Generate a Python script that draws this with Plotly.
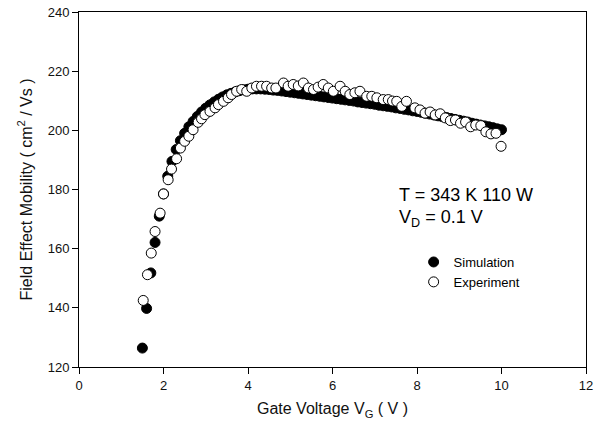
import plotly.graph_objects as go

# Simulation (filled circles)
sim_v = [1.5, 1.6, 1.7, 1.8, 1.9, 2.0, 2.1, 2.2, 2.3, 2.4, 2.5, 2.6, 2.7, 2.8, 2.9,
         3.0, 3.1, 3.2, 3.3, 3.4, 3.5, 3.6, 3.7, 3.8, 3.9, 4.0, 4.1, 4.2, 4.3, 4.4,
         4.5, 4.6, 4.7, 4.8, 4.9, 5.0, 5.1, 5.2, 5.3, 5.4, 5.5, 5.6, 5.7, 5.8, 5.9,
         6.0, 6.1, 6.2, 6.3, 6.4, 6.5, 6.6, 6.7, 6.8, 6.9, 7.0, 7.1, 7.2, 7.3, 7.4,
         7.5, 7.6, 7.7, 7.8, 7.9, 8.0, 8.1, 8.2, 8.3, 8.4, 8.5, 8.6, 8.7, 8.8, 8.9,
         9.0, 9.1, 9.2, 9.3, 9.4, 9.5, 9.6, 9.7, 9.8, 9.9, 10.0]
sim_mu = [126.4, 139.8, 151.8, 162.1, 171.0, 178.5, 184.5, 189.5, 193.5, 196.5,
          199.0, 201.2, 203.0, 204.7, 206.2, 207.5, 208.6, 209.6, 210.5, 211.3,
          212.0, 212.5, 213.0, 213.4, 213.7, 213.9, 214.0, 214.0, 214.0, 213.9,
          213.8, 213.6, 213.5, 213.3, 213.1, 212.9, 212.7, 212.5, 212.3, 212.1,
          211.9, 211.7, 211.5, 211.3, 211.1, 210.9, 210.7, 210.5, 210.3, 210.1,
          209.9, 209.6, 209.4, 209.2, 209.0, 208.8, 208.5, 208.3, 208.1, 207.9,
          207.6, 207.4, 207.1, 206.9, 206.6, 206.4, 206.1, 205.8, 205.5, 205.2,
          204.9, 204.6, 204.3, 204.0, 203.7, 203.4, 203.1, 202.8, 202.4, 202.1,
          201.8, 201.5, 201.2, 200.9, 200.5, 200.2]

# Experiment (open circles)
exp_v = [1.52, 1.62, 1.71, 1.80, 1.92, 2.00, 2.11, 2.19, 2.31, 2.40, 2.50, 2.60,
         2.70, 2.82, 2.90, 2.98, 3.10, 3.22, 3.30, 3.42, 3.53, 3.61, 3.73, 3.85,
         3.97, 4.09, 4.20, 4.32, 4.44, 4.56, 4.66, 4.84, 4.95, 5.07, 5.19, 5.31,
         5.43, 5.55, 5.66, 5.78, 5.90, 6.02, 6.18, 6.30, 6.41, 6.53, 6.65, 6.81,
         6.93, 7.05, 7.20, 7.32, 7.42, 7.52, 7.64, 7.75, 7.95, 8.07, 8.19, 8.31,
         8.43, 8.55, 8.67, 8.79, 8.91, 9.03, 9.15, 9.27, 9.39, 9.51, 9.63, 9.75,
         9.87, 9.99]
exp_mu = [142.5, 151.2, 158.5, 165.8, 172.0, 178.5, 183.3, 186.9, 190.4, 194.0,
          196.3, 198.0, 200.2, 202.7, 203.9, 205.3, 206.4, 207.6, 208.7, 209.8,
          211.0, 212.1, 213.2, 213.8, 213.2, 214.3, 214.9, 214.9, 214.9, 214.3,
          214.3, 216.0, 214.9, 215.5, 215.0, 216.0, 214.3, 213.8, 214.6, 215.5,
          214.3, 213.2, 214.9, 213.2, 212.1, 212.7, 213.2, 211.5, 211.5, 211.0,
          210.4, 210.4, 209.9, 209.8, 208.1, 209.8, 207.6, 206.9, 205.8, 206.2,
          205.2, 205.6, 204.2, 203.3, 203.5, 202.4, 202.8, 201.2, 201.8, 201.6,
          199.5, 198.8, 199.0, 194.6]

x_ticks = [0, 2, 4, 6, 8, 10, 12]
y_ticks = [120, 140, 160, 180, 200, 220, 240]

FONT = "Liberation Sans, Arial, sans-serif"

fig = go.Figure()
fig.add_trace(go.Scatter(
    x=sim_v, y=sim_mu, mode="markers", name="Simulation",
    marker=dict(symbol="circle", size=10, color="black",
                line=dict(color="black", width=1)),
))
fig.add_trace(go.Scatter(
    x=exp_v, y=exp_mu, mode="markers", name="Experiment",
    marker=dict(symbol="circle", size=10, color="white",
                line=dict(color="black", width=1)),
))

axis_common = dict(
    showline=True, linecolor="black", linewidth=1, mirror=True,
    ticks="outside", ticklen=6, tickwidth=1, tickcolor="black",
    showgrid=False, zeroline=False,
    tickfont=dict(family=FONT, size=13, color="#111"),
)

fig.update_xaxes(range=[0, 12], tickvals=x_ticks,
                 title=dict(text="Gate Voltage V<sub>G</sub> ( V )",
                            font=dict(family=FONT, size=16, color="#111"),
                            standoff=11),
                 **axis_common)
fig.update_yaxes(range=[120, 240], tickvals=y_ticks,
                 title=dict(text="Field Effect Mobility ( cm<sup>2</sup> / Vs )",
                            font=dict(family=FONT, size=16, color="#111"),
                            standoff=11),
                 **axis_common)

fig.add_annotation(
    x=0.628, y=(367 - 195) / 355, xref="paper", yref="paper",
    xanchor="left", yanchor="middle", align="left", showarrow=False,
    text="T = 343 K 110 W",
    font=dict(family=FONT, size=18, color="black"),
)
fig.add_annotation(
    x=0.628, y=(367 - 218) / 355, xref="paper", yref="paper",
    xanchor="left", yanchor="middle", align="left", showarrow=False,
    text="V<sub>D</sub> = 0.1 V",
    font=dict(family=FONT, size=18, color="black"),
)

fig.update_layout(
    width=598, height=434,
    margin=dict(l=79, r=12, t=12, b=67, autoexpand=False),
    paper_bgcolor="white", plot_bgcolor="white",
    showlegend=True,
    legend=dict(x=0.66, y=0.338, xanchor="left", yanchor="top",
                bgcolor="rgba(0,0,0,0)", borderwidth=0,
                font=dict(family=FONT, size=13, color="black"),
                itemsizing="trace", tracegroupgap=0),
)

fig.write_html("out.html")
